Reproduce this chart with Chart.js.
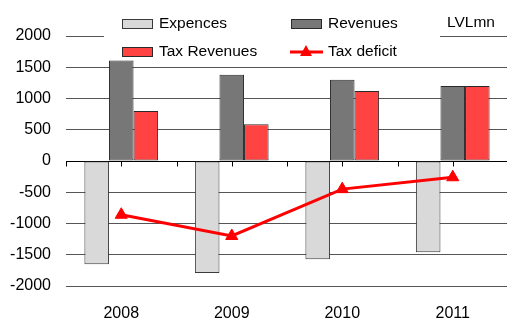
<!DOCTYPE html>
<html lang="en">
<head>
    <meta charset="UTF-8">
    <title>Budget LVLmn</title>
    <script src="https://cdn.jsdelivr.net/npm/chart.js"></script>
    <style>
        body {
            margin: 0;
            background: white;
        }
        .wrap {
            width: 507px;
            height: 320px;
            overflow: hidden;
        }
        #budgetChart {
            display: block;
            width: 516px;
            height: 320px;
        }
    </style>
</head>
<body>
    <div class="wrap">
        <canvas id="budgetChart" width="516" height="320"></canvas>
    </div>

    <script>
        const years = ['2008', '2009', '2010', '2011'];
        const expences = [-1650, -1790, -1570, -1460];
        const revenues = [1610, 1380, 1300, 1200];
        const taxRevenues = [800, 590, 1120, 1200];
        const taxDeficit = [-860, -1200, -450, -260];
        const unitLabel = 'LVLmn';

        const FONT = "'Liberation Sans', Arial, sans-serif";

        // legend sits on top of the plot with a white box, like the original
        const boxLegend = {
            id: 'boxLegend',
            afterDraw(chart) {
                const ctx = chart.ctx;
                const ds = chart.data.datasets;
                ctx.save();
                ctx.fillStyle = '#fff';
                ctx.fillRect(104, 4, 336, 56);

                const items = [
                    { d: ds[0], x: 122, y: 24 },
                    { d: ds[1], x: 291, y: 24 },
                    { d: ds[2], x: 122, y: 52 },
                    { d: ds[3], x: 291, y: 52 }
                ];
                ctx.font = '15.5px ' + FONT;
                ctx.textBaseline = 'middle';
                items.forEach(it => {
                    if (it.d.type === 'line') {
                        ctx.strokeStyle = it.d.borderColor;
                        ctx.lineWidth = 3;
                        ctx.beginPath();
                        ctx.moveTo(it.x - 1, it.y);
                        ctx.lineTo(it.x + 32, it.y);
                        ctx.stroke();
                        ctx.fillStyle = it.d.pointBackgroundColor;
                        ctx.beginPath();
                        ctx.moveTo(it.x + 15, it.y - 7);
                        ctx.lineTo(it.x + 21, it.y + 4);
                        ctx.lineTo(it.x + 9, it.y + 4);
                        ctx.closePath();
                        ctx.fill();
                    } else {
                        ctx.fillStyle = it.d.backgroundColor;
                        ctx.fillRect(it.x, it.y - 5, 31, 10);
                        ctx.strokeStyle = it.d.borderColor;
                        ctx.lineWidth = 1;
                        ctx.strokeRect(it.x + 0.5, it.y - 4.5, 30, 9);
                    }
                    ctx.fillStyle = '#000';
                    ctx.fillText(it.d.label, it.x + 37, it.y);
                });

                ctx.fillText(unitLabel, 447, 23);
                ctx.restore();
            },
            afterDatasetsDraw(chart) {
                // small ticks hanging under the zero line
                const x = chart.scales.x;
                const y0 = Math.round(chart.scales.y.getPixelForValue(0)) + 0.5;
                const ctx = chart.ctx;
                ctx.save();
                ctx.strokeStyle = '#000';
                ctx.lineWidth = 1;
                for (let i = 0; i <= years.length * 2; i++) {
                    const px = Math.round(x.getPixelForValue(i / 2 - 0.5)) + 0.5;
                    ctx.beginPath();
                    ctx.moveTo(px, y0);
                    ctx.lineTo(px, y0 + 5);
                    ctx.stroke();
                }
                ctx.restore();
            }
        };

        new Chart(document.getElementById('budgetChart'), {
            data: {
                labels: years,
                datasets: [
                    {
                        type: 'bar',
                        label: 'Expences',
                        data: expences,
                        backgroundColor: '#d9d9d9',
                        borderColor: '#3a3a3a',
                        borderWidth: 1,
                        borderSkipped: false,
                        order: 2
                    },
                    {
                        type: 'bar',
                        label: 'Revenues',
                        data: revenues,
                        backgroundColor: '#777777',
                        borderColor: '#2a2a2a',
                        borderWidth: 1,
                        borderSkipped: false,
                        order: 2
                    },
                    {
                        type: 'bar',
                        label: 'Tax Revenues',
                        data: taxRevenues,
                        backgroundColor: '#ff4242',
                        borderColor: '#2a2a2a',
                        borderWidth: 1,
                        borderSkipped: false,
                        order: 2
                    },
                    {
                        type: 'line',
                        label: 'Tax deficit',
                        data: taxDeficit,
                        borderColor: '#ff0000',
                        borderWidth: 3,
                        pointStyle: 'triangle',
                        pointRadius: 7,
                        pointBackgroundColor: '#ff0000',
                        pointBorderColor: '#ff0000',
                        pointBorderWidth: 1,
                        tension: 0,
                        order: 1
                    }
                ]
            },
            options: {
                responsive: false,
                animation: false,
                categoryPercentage: 0.667,
                barPercentage: 1.0,
                layout: {
                    padding: { top: 36, right: 2, left: 0, bottom: 0 }
                },
                plugins: {
                    legend: { display: false },
                    tooltip: { enabled: false }
                },
                scales: {
                    x: {
                        grid: { display: false },
                        border: { display: false },
                        ticks: {
                            color: '#000',
                            padding: 10,
                            font: { family: FONT, size: 16 }
                        },
                        afterFit(scale) { scale.height = 34; }
                    },
                    y: {
                        min: -2000,
                        max: 2000,
                        border: { display: false },
                        grid: {
                            drawTicks: false,
                            color: ctx => ctx.tick && ctx.tick.value === 0 ? '#000' : '#555'
                        },
                        ticks: {
                            stepSize: 500,
                            color: '#000',
                            padding: 15,
                            font: { family: FONT, size: 16 },
                            callback: v => String(v)
                        },
                        afterFit(scale) { scale.width = 66; }
                    }
                }
            },
            plugins: [boxLegend]
        });
    </script>
</body>
</html>
